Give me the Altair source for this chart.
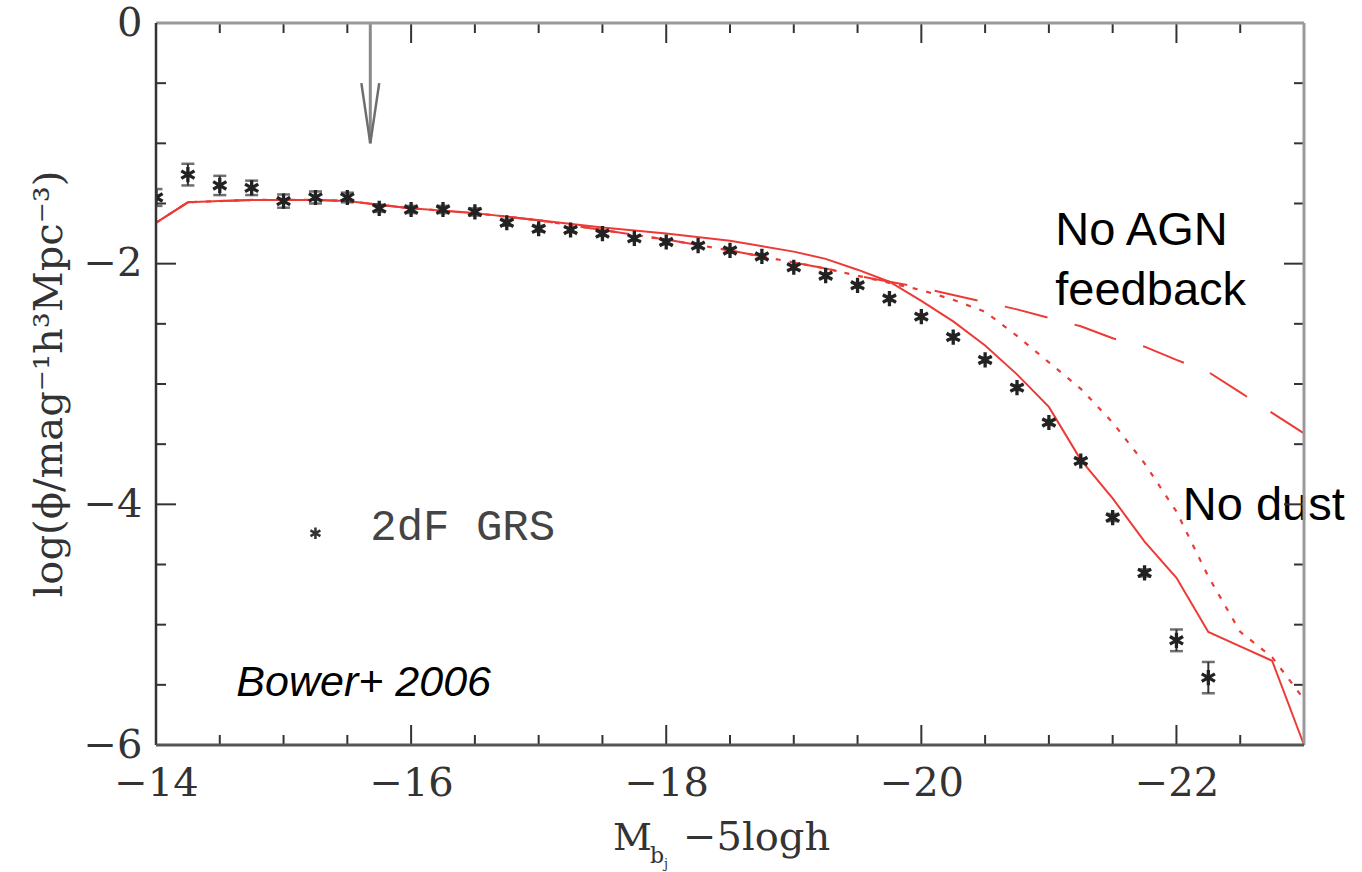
import altair as alt
import pandas as pd

W, H = 1148, 722

# ---- 2dF GRS luminosity function ----
mag_obs = [-14.0, -14.25, -14.5, -14.75, -15.0, -15.25, -15.5, -15.75, -16.0, -16.25,
           -16.5, -16.75, -17.0, -17.25, -17.5, -17.75, -18.0, -18.25, -18.5, -18.75,
           -19.0, -19.25, -19.5, -19.75, -20.0, -20.25, -20.5, -20.75, -21.0, -21.25,
           -21.5, -21.75, -22.0, -22.25]
phi_obs = [-1.45, -1.26, -1.35, -1.37, -1.48, -1.45, -1.45, -1.54, -1.55, -1.55,
           -1.57, -1.66, -1.71, -1.72, -1.75, -1.79, -1.82, -1.85, -1.89, -1.94,
           -2.03, -2.10, -2.18, -2.29, -2.44, -2.61, -2.80, -3.03, -3.32, -3.64,
           -4.11, -4.57, -5.13, -5.44]
err_obs = [0.07, 0.09, 0.08, 0.06, 0.055, 0.05, 0.04, 0.03, 0.03, 0.03,
           0.03, 0.025, 0.025, 0.02, 0.02, 0.02, 0.02, 0.02, 0.02, 0.02,
           0.02, 0.02, 0.02, 0.02, 0.02, 0.02, 0.02, 0.02, 0.02, 0.02,
           0.03, 0.03, 0.09, 0.13]

# ---- model curves ----
mag_model = [-14.0, -14.25, -14.5, -14.75, -15.0, -15.25, -15.5, -15.75, -16.0, -16.5,
             -17.0, -17.5, -18.0, -18.5, -19.0, -19.25, -19.5, -19.75, -20.0, -20.25,
             -20.5, -20.75, -21.0, -21.25, -21.5, -21.75, -22.0, -22.25, -22.5, -22.75,
             -23.0]
phi_fiducial = [-1.66, -1.49, -1.48, -1.47, -1.47, -1.47, -1.48, -1.51, -1.54, -1.58,
                -1.64, -1.70, -1.75, -1.81, -1.90, -1.96, -2.05, -2.15, -2.31, -2.48,
                -2.68, -2.92, -3.19, -3.63, -3.95, -4.31, -4.61, -5.06, -5.18, -5.30,
                -6.00]
phi_no_agn = [-1.66, -1.49, -1.48, -1.47, -1.47, -1.47, -1.48, -1.51, -1.54, -1.58,
              -1.64, -1.72, -1.80, -1.89, -1.99, -2.04, -2.10, -2.15, -2.20, -2.26,
              -2.32, -2.38, -2.45, -2.52, -2.62, -2.69, -2.80, -2.90, -3.07, -3.24,
              -3.41]
phi_no_dust = [-1.66, -1.49, -1.48, -1.47, -1.47, -1.47, -1.48, -1.51, -1.54, -1.58,
               -1.64, -1.72, -1.80, -1.89, -1.99, -2.04, -2.10, -2.16, -2.22, -2.30,
               -2.40, -2.60, -2.82, -3.04, -3.32, -3.66, -4.06, -4.60, -5.06, -5.27,
               -5.62]

# ---- ticks ----
x_labels = [-14, -16, -18, -20, -22]
x_major = [-16, -18, -20, -22]
x_minor = [-14.5, -15, -15.5, -16.5, -17, -17.5, -18.5, -19, -19.5, -20.5, -21, -21.5, -22.5]
y_labels = [0, -2, -4, -6]
y_major = [-2, -4]
y_minor = [-0.5, -1, -1.5, -2.5, -3, -3.5, -4.5, -5, -5.5]

RED = "#ec3b36"
AX = "#333333"
SERIF = "DejaVu Serif"
SANS = "Liberation Sans"
STAR = "M0,-1L0,1M-0.87,-0.5L0.87,0.5M-0.87,0.5L0.87,-0.5"

xs = alt.Scale(domain=[-23, -14], reverse=True, nice=False, zero=False)
ys = alt.Scale(domain=[-6, 0], nice=False, zero=False)
xaxis = alt.Axis(values=x_labels, title=None, ticks=False, tickSize=0, grid=False, domain=False,
                 labelFont=SERIF, labelFontSize=40, labelColor=AX, labelPadding=18,
                 labelFlush=False, labelOverlap=False, format="d")
yaxis = alt.Axis(values=y_labels, title=None, ticks=False, tickSize=0, grid=False, domain=False,
                 labelFont=SERIF, labelFontSize=40, labelColor=AX, labelPadding=14,
                 labelFlush=False, labelOverlap=False, format="d")


def X(f):
    return alt.X(f, scale=xs, axis=xaxis)


def Y(f):
    return alt.Y(f, scale=ys, axis=yaxis)


obs = pd.DataFrame({"x": mag_obs, "y": phi_obs, "e": err_obs})
obs["lo"] = obs["y"] - obs["e"]
obs["hi"] = obs["y"] + obs["e"]

models = pd.DataFrame({"x": mag_model, "fid": phi_fiducial, "agn": phi_no_agn, "dust": phi_no_dust})

line_fid = alt.Chart(models).mark_line(color=RED, strokeWidth=2).encode(x=X("x:Q"), y=Y("fid:Q"))
line_agn = alt.Chart(models).mark_line(color=RED, strokeWidth=2, strokeDash=[44, 28]).encode(
    x=X("x:Q"), y=Y("agn:Q"))
line_dust = alt.Chart(models).mark_line(color=RED, strokeWidth=2.2, strokeDash=[5, 9]).encode(
    x=X("x:Q"), y=Y("dust:Q"))

err_rule = alt.Chart(obs).mark_rule(color="#333", strokeWidth=2, clip=True).encode(
    x=X("x:Q"), y=Y("lo:Q"), y2="hi:Q")
cap_lo = alt.Chart(obs).mark_tick(color="#333", orient="horizontal", size=13, thickness=2.5, clip=True).encode(
    x=X("x:Q"), y=Y("lo:Q"))
cap_hi = alt.Chart(obs).mark_tick(color="#333", orient="horizontal", size=13, thickness=2.5, clip=True).encode(
    x=X("x:Q"), y=Y("hi:Q"))
stars = alt.Chart(obs).mark_point(shape=STAR, size=230, filled=False, color="#222", strokeWidth=3.3,
                                  opacity=1, clip=True).encode(x=X("x:Q"), y=Y("y:Q"))

# legend
leg_star = alt.Chart(pd.DataFrame({"x": [-15.25], "y": [-4.24]})).mark_point(
    shape=STAR, size=130, filled=False, color="#333", strokeWidth=2.5, opacity=1).encode(
    x=X("x:Q"), y=Y("y:Q"))


def label(text, x, y, size, font=SANS, italic=False, color="black"):
    return alt.Chart(pd.DataFrame({"x": [x], "y": [y], "t": [text]})).mark_text(
        align="left", baseline="alphabetic", font=font, fontSize=size,
        fontStyle="italic" if italic else "normal", color=color).encode(
        x=X("x:Q"), y=Y("y:Q"), text="t:N")


texts = [
    label("2dF GRS", -15.68, -4.30, 44, font="Liberation Mono", color="#444"),
    label("No AGN", -21.05, -1.845, 47),
    label("feedback", -21.05, -2.345, 47),
    label("No dust", -22.05, -4.13, 47),
    label("Bower+ 2006", -14.63, -5.59, 43, italic=True),
]

# arrow marking a magnitude limit
arrow_shaft = alt.Chart(pd.DataFrame({"x": [-15.68], "y": [0.0], "y2": [-1.0]})).mark_rule(
    color="#8a8a8a", strokeWidth=3).encode(x=X("x:Q"), y=Y("y:Q"), y2="y2:Q")
arrow_head = alt.Chart(pd.DataFrame({"x": [-15.61, -15.68, -15.75], "y": [-0.5, -1.0, -0.5],
                                     "o": [0, 1, 2]})).mark_line(
    color="#6e6e6e", strokeWidth=2.5).encode(x=X("x:Q"), y=Y("y:Q"), order="o:Q")


def tick_x(vals, y0, y1):
    return alt.Chart(pd.DataFrame({"v": vals})).mark_rule(color=AX, strokeWidth=2).encode(
        x=X("v:Q"), y=alt.value(y0), y2=alt.value(y1))


def tick_y(vals, x0, x1):
    return alt.Chart(pd.DataFrame({"v": vals})).mark_rule(color=AX, strokeWidth=2).encode(
        y=Y("v:Q"), x=alt.value(x0), x2=alt.value(x1))


ticks = [
    tick_x(x_major, H, H - 20), tick_x(x_minor, H, H - 10),
    tick_x(x_major, 0, 20), tick_x(x_minor, 0, 10),
    tick_y(y_major, 0, 20), tick_y(y_minor, 0, 10),
    tick_y(y_major, W, W - 20), tick_y(y_minor, W, W - 10),
]

one = pd.DataFrame({"a": [0]})
frame = [
    alt.Chart(one).mark_rule(color="#999", strokeWidth=3).encode(x=alt.value(0), x2=alt.value(W), y=alt.value(0)),
    alt.Chart(one).mark_rule(color="#999", strokeWidth=3).encode(x=alt.value(W), y=alt.value(0), y2=alt.value(H)),
    alt.Chart(one).mark_rule(color=AX, strokeWidth=2.5).encode(x=alt.value(0), y=alt.value(0), y2=alt.value(H)),
    alt.Chart(one).mark_rule(color="#555", strokeWidth=3).encode(x=alt.value(0), x2=alt.value(W), y=alt.value(H)),
]


def ptext(text, x, y, size, angle=0, align="left", baseline="alphabetic"):
    return alt.Chart(pd.DataFrame({"t": [text]})).mark_text(
        font=SERIF, fontSize=size, color=AX, align=align, baseline=baseline, angle=angle).encode(
        x=alt.value(x), y=alt.value(y), text="t:N")


titles = [
    ptext("log(ϕ/mag⁻¹h³Mpc⁻³)", -106, 361, 40, angle=270, align="center", baseline="middle"),
    ptext("M", 457, 827, 38),
    ptext("b", 494, 840, 22),
    ptext("j", 508, 845, 13),
    ptext("−5logh", 527, 827, 40),
]

chart = alt.layer(
    line_fid, line_agn, line_dust,
    err_rule, cap_lo, cap_hi, stars,
    leg_star, arrow_shaft, arrow_head,
    *texts, *ticks, *frame, *titles,
).properties(
    width=W, height=H,
    autosize=alt.AutoSizeParams(type="none"),
    padding={"left": 156, "top": 23, "right": 58, "bottom": 127},
).configure_view(stroke=None).configure(background="white")

chart.save("out.html", embed_options={"renderer": "svg", "actions": False})
